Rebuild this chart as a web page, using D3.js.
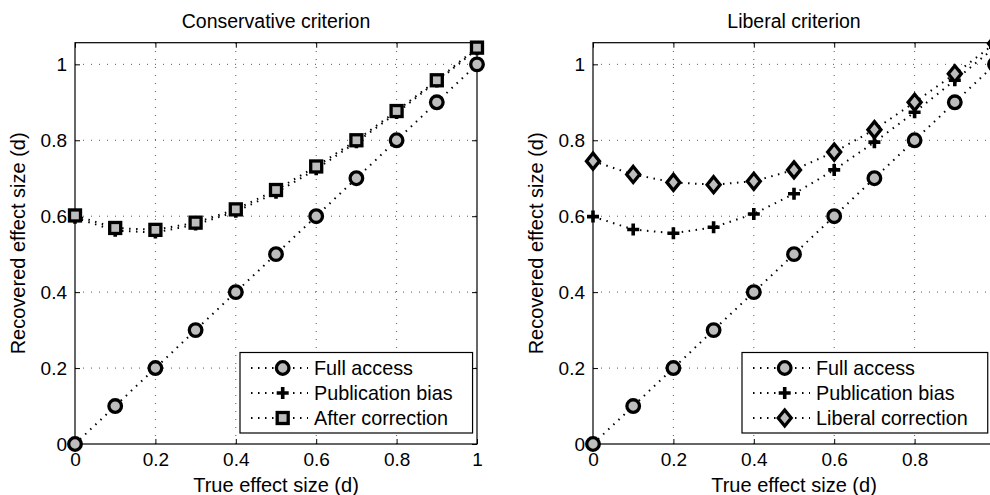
<!DOCTYPE html>
<html>
<head>
<meta charset="utf-8">
<script src="https://cdn.jsdelivr.net/npm/d3@7"></script>
<style>
  body { margin: 0; background: #fff; }
  text { font-family: "Liberation Sans", Arial, sans-serif; fill: #000; }
</style>
</head>
<body>
<div id="chart"></div>
<script>
// values
const trueEffect = [0, 0.1, 0.2, 0.3, 0.4, 0.5, 0.6, 0.7, 0.8, 0.9, 1];
const fullAccess = [0, 0.1, 0.2, 0.3, 0.4, 0.5, 0.6, 0.7, 0.8, 0.9, 1];
const pubBiasConservative = [0.596, 0.562, 0.557, 0.578, 0.612, 0.662, 0.724, 0.795, 0.872, 0.955, 1.04];
const afterCorrection = [0.602, 0.569, 0.564, 0.583, 0.618, 0.669, 0.731, 0.800, 0.877, 0.958, 1.044];
const pubBiasLiberal = [0.599, 0.565, 0.555, 0.571, 0.606, 0.659, 0.722, 0.795, 0.874, 0.958, 1.045];
const liberalCorrection = [0.745, 0.710, 0.689, 0.683, 0.692, 0.722, 0.769, 0.828, 0.900, 0.975, 1.055];
const xTicks = [0, 0.2, 0.4, 0.6, 0.8, 1];
const yTicks = [0, 0.2, 0.4, 0.6, 0.8, 1];

const width = 990;
const height = 495;
const fill = "#bdbdbd";

const svg = d3.select("#chart")
    .append("svg")
    .attr("width", width)
    .attr("height", height);

const markers = {
    circle: g => g.append("circle").attr("r", 6.3),
    plus: g => g.append("path").attr("d", "M-6,0H6M0,-6V6").attr("stroke-width", 3.6),
    square: g => g.append("rect").attr("x", -5.5).attr("y", -5.5).attr("width", 11).attr("height", 11),
    diamond: g => g.append("path").attr("d", "M0,-8L6.5,0L0,8L-6.5,0Z")
};

const renderPanel = (panel) => {
    const x = d3.scaleLinear().domain([0, 1]).range([panel.left, panel.left + 402]);
    const y = d3.scaleLinear().domain([0, 1.057]).range([444, 42.7]);
    const g = svg.append("g");

    // grid
    g.selectAll(".gx").data(xTicks.slice(1, -1)).enter().append("line")
        .attr("x1", d => x(d)).attr("x2", d => x(d))
        .attr("y1", y.range()[0]).attr("y2", y.range()[1])
        .attr("stroke", "#555").attr("stroke-width", 1).attr("stroke-dasharray", "1,7");
    g.selectAll(".gy").data(yTicks.slice(1)).enter().append("line")
        .attr("y1", d => y(d)).attr("y2", d => y(d))
        .attr("x1", x.range()[0]).attr("x2", x.range()[1])
        .attr("stroke", "#555").attr("stroke-width", 1).attr("stroke-dasharray", "1,7");

    // axes (MATLAB style: box with inward ticks)
    const tickLen = 5;
    g.append("g").attr("transform", `translate(0,${y(0)})`)
        .call(d3.axisBottom(x).tickValues(xTicks).tickSize(-tickLen).tickPadding(9).tickFormat(d3.format("")))
        .call(a => a.select(".domain").remove())
        // labels that would fall past the page edge are not shown in the original
        .call(a => a.selectAll(".tick text").filter(d => x(d) > width - 8).remove());
    g.append("g").attr("transform", `translate(0,${y.range()[1]})`)
        .call(d3.axisTop(x).tickValues(xTicks).tickSize(-tickLen).tickFormat(""))
        .call(a => a.select(".domain").remove());
    g.append("g").attr("transform", `translate(${x(0)},0)`)
        .call(d3.axisLeft(y).tickValues(yTicks).tickSize(-tickLen).tickPadding(8).tickFormat(d3.format("")))
        .call(a => a.select(".domain").remove());
    g.append("g").attr("transform", `translate(${x(1)},0)`)
        .call(d3.axisRight(y).tickValues(yTicks).tickSize(-tickLen).tickFormat(""))
        .call(a => a.select(".domain").remove());
    g.selectAll(".tick text").attr("font-size", 19).attr("font-family", "Liberation Sans, Arial, sans-serif");
    g.selectAll(".tick line").attr("stroke", "#000");

    g.append("rect")
        .attr("x", x(0)).attr("y", y.range()[1])
        .attr("width", x(1) - x(0)).attr("height", y(0) - y.range()[1])
        .attr("fill", "none").attr("stroke", "#000").attr("stroke-width", 1.2);

    // titles and labels
    g.append("text").attr("x", (x(0) + x(1)) / 2).attr("y", 28)
        .attr("text-anchor", "middle").attr("font-size", 19.5).text(panel.title);
    g.append("text").attr("x", (x(0) + x(1)) / 2).attr("y", 492)
        .attr("text-anchor", "middle").attr("font-size", 20).text("True effect size (d)");
    g.append("text")
        .attr("transform", `translate(${x(0) - 50},${(y(0) + y.range()[1]) / 2}) rotate(-90)`)
        .attr("text-anchor", "middle").attr("font-size", 20).text("Recovered effect size (d)");

    const line = d3.line().x((d, i) => x(trueEffect[i])).y(d => y(d));

    panel.series.forEach(s => {
        g.append("path").datum(s.values)
            .attr("d", line)
            .attr("fill", "none").attr("stroke", "#000")
            .attr("stroke-width", 2).attr("stroke-dasharray", "1.5,5.5");
    });
    panel.series.forEach(s => {
        g.selectAll(null).data(s.values).enter().append("g")
            .attr("transform", (d, i) => `translate(${x(trueEffect[i])},${y(d)})`)
            .attr("fill", fill).attr("stroke", "#000").attr("stroke-width", 3.3)
            .each(function () { markers[s.marker](d3.select(this)); });
    });

    // legend
    const lg = g.append("g");
    const box = lg.append("rect").attr("fill", "#fff").attr("stroke", "#000").attr("stroke-width", 1.2);
    const boxLeft = panel.legendLeft;
    let maxText = 0;
    panel.series.forEach((s, i) => {
        const ry = 368 + i * 25;
        lg.append("line").attr("x1", boxLeft + 11).attr("x2", boxLeft + 68)
            .attr("y1", ry).attr("y2", ry)
            .attr("stroke", "#000").attr("stroke-width", 2).attr("stroke-dasharray", "1.5,5.5");
        const m = lg.append("g").attr("transform", `translate(${boxLeft + 42.7},${ry})`)
            .attr("fill", fill).attr("stroke", "#000").attr("stroke-width", 3.3);
        markers[s.marker](m);
        const t = lg.append("text").attr("x", boxLeft + 74).attr("y", ry + 7)
            .attr("font-size", 19.8).text(s.name);
        maxText = Math.max(maxText, t.node().getComputedTextLength());
    });
    box.attr("x", boxLeft).attr("y", 352.5)
        .attr("width", 74 + maxText + 20).attr("height", 80.5);
};

renderPanel({
    left: 75,
    legendLeft: 240,
    title: "Conservative criterion",
    series: [
        {name: "Full access", values: fullAccess, marker: "circle"},
        {name: "Publication bias", values: pubBiasConservative, marker: "plus"},
        {name: "After correction", values: afterCorrection, marker: "square"}
    ]
});

renderPanel({
    left: 593,
    legendLeft: 742,
    title: "Liberal criterion",
    series: [
        {name: "Full access", values: fullAccess, marker: "circle"},
        {name: "Publication bias", values: pubBiasLiberal, marker: "plus"},
        {name: "Liberal correction", values: liberalCorrection, marker: "diamond"}
    ]
});
</script>
</body>
</html>
